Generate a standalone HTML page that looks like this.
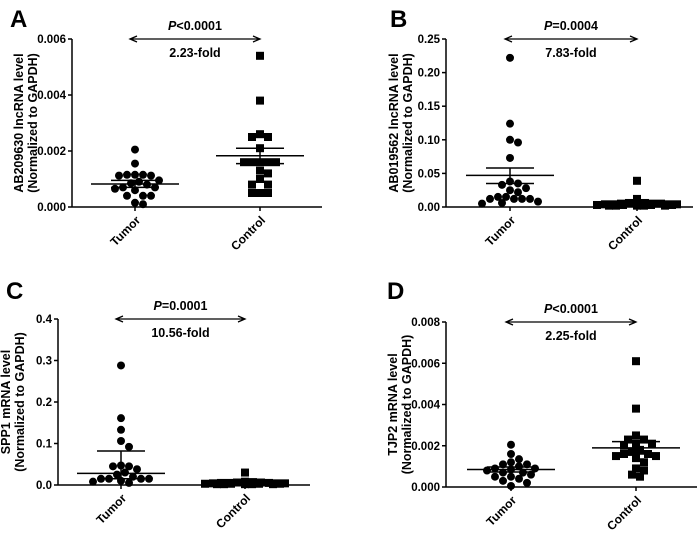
<!DOCTYPE html>
<html><head><meta charset="utf-8"><style>
html,body{margin:0;padding:0;background:#fff}
svg{display:block;font-family:"Liberation Sans",Arial,sans-serif;font-weight:bold}
</style></head><body>
<svg id="fig" width="700" height="543" viewBox="0 0 700 543" xmlns="http://www.w3.org/2000/svg"></svg>
<script>
// Panel A data
const aTumor=[0.00205,0.00155,0.00115,0.00115,0.00112,0.00112,0.00115,0.00095,0.0009,0.00085,0.0008,0.0007,0.0007,0.0006,0.00065,0.0004,0.0004,0.0004,0.00015,0.0001];
const aControl=[0.0054,0.0038,0.0026,0.0025,0.0025,0.0021,0.0016,0.0016,0.0016,0.0016,0.0016,0.0013,0.0012,0.001,0.0008,0.0008,0.0005,0.0005,0.0005];
const aStats=[[0.00082,0.00095,0.0007],[0.00183,0.0021,0.00155]];
const aTicks=[0,0.002,0.004,0.006];
const aTickLabels=["0.000","0.002","0.004","0.006"];
// Panel B data
const bTumor=[0.222,0.124,0.1,0.096,0.073,0.035,0.033,0.038,0.025,0.022,0.028,0.015,0.015,0.012,0.012,0.012,0.012,0.008,0.006,0.005];
const bControl=[0.039,0.012,0.006,0.006,0.005,0.005,0.005,0.004,0.004,0.004,0.004,0.003,0.003,0.003,0.003,0.002,0.002,0.002,0.002,0.002];
const bStats=[[0.047,0.058,0.035],[0.006,0.008,0.004]];
const bTicks=[0,0.05,0.1,0.15,0.2,0.25];
const bTickLabels=["0.00","0.05","0.10","0.15","0.20","0.25"];
// Panel C data
const cTumor=[0.288,0.161,0.133,0.106,0.092,0.047,0.045,0.045,0.038,0.03,0.025,0.02,0.015,0.015,0.015,0.015,0.01,0.008,0.005];
const cControl=[0.03,0.008,0.007,0.006,0.006,0.005,0.005,0.005,0.004,0.004,0.004,0.003,0.003,0.003,0.003,0.002,0.002,0.002,0.002,0.002];
const cStats=[[0.028,0.082,0.015],[0.005,0.007,0.003]];
const cTicks=[0,0.1,0.2,0.3,0.4];
const cTickLabels=["0.0","0.1","0.2","0.3","0.4"];
// Panel D data
const dTumor=[0.00205,0.0016,0.00135,0.0012,0.0011,0.0011,0.001,0.0009,0.0009,0.0008,0.00085,0.0007,0.0007,0.0006,0.0005,0.0005,0.0004,0.0003,0.0002,0.00005];
const dControl=[0.0061,0.0038,0.0025,0.0023,0.0023,0.0021,0.0021,0.002,0.0018,0.0017,0.0016,0.0016,0.0015,0.0015,0.0014,0.0012,0.0009,0.0008,0.0006,0.0005];
const dStats=[[0.00085,0.00097,0.00073],[0.0019,0.0022,0.0016]];
const dTicks=[0,0.002,0.004,0.006,0.008];
const dTickLabels=["0.000","0.002","0.004","0.006","0.008"];
const categories=["Tumor","Control"];

const NS="http://www.w3.org/2000/svg";
const svg=document.getElementById('fig');
function mk(tag,attrs,parent,text){const e=document.createElementNS(NS,tag);for(const k in attrs)e.setAttribute(k,attrs[k]);if(text!==undefined)e.textContent=text;(parent||svg).appendChild(e);return e;}

const panels=[
 {id:'a',letter:'A',lx:10,ly:27,ax:72,x1:322,y0:207,yTop:39,xs:[135,260],title:['AB209630 lncRNA level','(Normalized to GAPDH)'],tx:19,p:['<','0.0001'],fold:'2.23-fold',tumor:aTumor,control:aControl,stats:aStats,ticks:aTicks,tl:aTickLabels},
 {id:'b',letter:'B',lx:390,ly:27,ax:446,x1:693,y0:207,yTop:39,xs:[510,637],title:['AB019562 lncRNA level','(Normalized to GAPDH)'],tx:394,p:['=','0.0004'],fold:'7.83-fold',tumor:bTumor,control:bControl,stats:bStats,ticks:bTicks,tl:bTickLabels},
 {id:'c',letter:'C',lx:6,ly:299,ax:58,x1:310,y0:485,yTop:319,xs:[121,245],title:['SPP1 mRNA level','(Normalized to GAPDH)'],tx:6,p:['=','0.0001'],fold:'10.56-fold',tumor:cTumor,control:cControl,stats:cStats,ticks:cTicks,tl:cTickLabels},
 {id:'d',letter:'D',lx:387,ly:299,ax:446,x1:697,y0:487,yTop:322,xs:[511,636],title:['TJP2 mRNA level','(Normalized to GAPDH)'],tx:393,p:['<','0.0001'],fold:'2.25-fold',tumor:dTumor,control:dControl,stats:dStats,ticks:dTicks,tl:dTickLabels}
];

function swarm(vals,ys,cx,d,maxOff){
  const placed=[];const out=[];
  const order=vals.map((v,i)=>i).sort((a,b)=>vals[b]-vals[a]);
  order.forEach((i,n)=>{const y=ys[i];let x=cx,ok=false;
    for(let k=0;k<60;k++){const off=(k%2?1:-1)*Math.ceil(k/2)*d*0.5;if(Math.abs(off)>maxOff)break;x=cx+off;
      if(placed.every(p=>(p[0]-x)**2+(p[1]-y)**2>=d*d*0.8)){ok=true;break;}}
    if(!ok){x=cx+((n*7)%11-5)*7;}
    placed.push([x,y]);out[i]=x;});
  return out;
}

panels.forEach(P=>{
  const g=mk('g',{});
  
  
  const yMax=P.ticks[P.ticks.length-1];
  const Y=v=>P.y0-(v/yMax)*(P.y0-P.yTop);
  const lt=mk('text',{x:P.lx,y:P.ly,'font-size':24,fill:'#000'},g,P.letter);
  
  
  const ya=mk('line',{x1:P.ax,y1:P.yTop,x2:P.ax,y2:P.y0,stroke:'#000','stroke-width':1.5},g);
  
  
  const xa=mk('line',{x1:P.ax,y1:P.y0,x2:P.x1,y2:P.y0,stroke:'#000','stroke-width':1.5},g);
  
  
  P.ticks.forEach((t,i)=>{
    mk('line',{x1:P.ax-4,y1:Y(t),x2:P.ax,y2:Y(t),stroke:'#000','stroke-width':1.5},g);
    const tx=mk('text',{x:P.ax-6,y:Y(t)+4,'font-size':11.5,'text-anchor':'end'},g,P.tl[i]);
    
    
  });
  const cy=(P.yTop+P.y0)/2;
  P.title.forEach((s,i)=>{
    const t=mk('text',{x:0,y:0,'font-size':12.5,'text-anchor':'middle',transform:`translate(${P.tx+4+i*14},${cy}) rotate(-90)`},g,s);
    
    
  });
  categories.forEach((c,i)=>{
    const x=P.xs[i];
    mk('line',{x1:x,y1:P.y0,x2:x,y2:P.y0+4,stroke:'#000','stroke-width':1.5},g);
    const t=mk('text',{x:0,y:0,'font-size':12,'text-anchor':'end',transform:`translate(${x+6},${P.y0+14}) rotate(-45)`},g,c);
    
    
  });
  [P.tumor,P.control].forEach((vals,gi)=>{
    const ys=vals.map(Y);
    const xs=swarm(vals,ys,P.xs[gi],8,40);
    vals.forEach((v,i)=>{
      let m;
      if(gi===0) m=mk('circle',{cx:xs[i],cy:ys[i],r:4,fill:'#000'},g);
      else m=mk('rect',{x:xs[i]-4,y:ys[i]-4,width:8,height:8,fill:'#000'},g);
      
      
    });
    const s=P.stats[gi],x=P.xs[gi];
    const ml=mk('line',{x1:x-44,y1:Y(s[0]),x2:x+44,y2:Y(s[0]),stroke:'#000','stroke-width':1.5},g);
    
    
    const eb=mk('path',{d:`M${x-24},${Y(s[1])}H${x+24}M${x-24},${Y(s[2])}H${x+24}M${x},${Y(s[1])}V${Y(s[2])}`,stroke:'#000','stroke-width':1.5,fill:'none'},g);
    
    
  });
  const ay=P.yTop, xa1=P.xs[0]-5, xa2=P.xs[1];
  const ar=mk('path',{d:`M${xa1},${ay}H${xa2}M${xa1+7},${ay-3}L${xa1},${ay}L${xa1+7},${ay+3}M${xa2-7},${ay-3}L${xa2},${ay}L${xa2-7},${ay+3}`,stroke:'#000','stroke-width':1.3,fill:'none'},g);
  
  
  const mid=(xa1+xa2)/2;
  const pt=mk('text',{x:mid,y:ay-9,'font-size':12.5,'text-anchor':'middle'},g);
  
  
  mk('tspan',{'font-style':'italic'},pt,'P');
  mk('tspan',{},pt,P.p[0]+P.p[1]);
  const ft=mk('text',{x:mid,y:ay+18,'font-size':12.5,'text-anchor':'middle'},g,P.fold);
  
  
});
</script>
</body></html>
